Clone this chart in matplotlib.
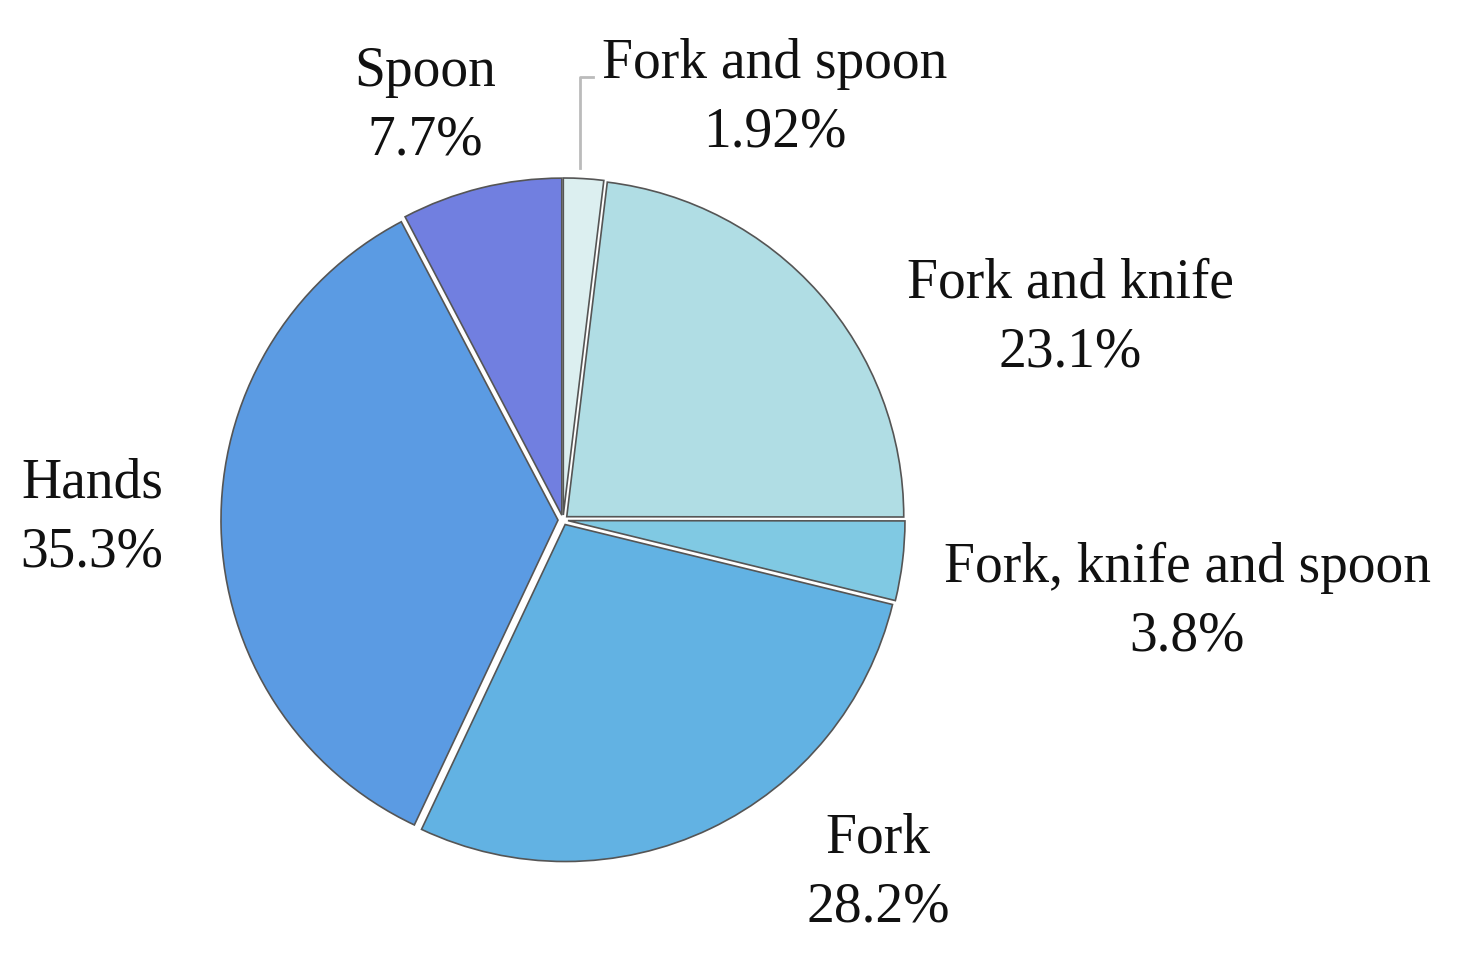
import numpy as np
import matplotlib.pyplot as plt

# categories and shares (%), clockwise from 12 o'clock
labels = ['Fork and spoon', 'Fork and knife', 'Fork, knife and spoon', 'Fork', 'Hands', 'Spoon']
shares = [1.92, 23.1, 3.8, 28.2, 35.3, 7.7]
pct_text = ['1.92%', '23.1%', '3.8%', '28.2%', '35.3%', '7.7%']
colors = ['#dceff0', '#b0dde4', '#80c9e3', '#62b2e3', '#5b9be3', '#717fe0']

W, H = 1480, 963
# label positions (pixels from top-left)
label_pos = [(775, 98), (1070, 318), (1187, 602), (878, 873), (92, 518), (425, 106)]

plt.rcParams['font.family'] = ['Liberation Serif', 'DejaVu Serif']

fig = plt.figure(figsize=(W / 100, H / 100), dpi=100)
ax = fig.add_axes([0, 0, 1, 1])

ax.pie(shares, colors=colors, startangle=90, counterclock=False,
       radius=337, center=(563, H - 520), explode=[5] * len(shares),
       wedgeprops=dict(edgecolor='#555555', linewidth=1.2))

for lab, pct, (x, y) in zip(labels, pct_text, label_pos):
    ax.text(x, H - y, lab + '\n' + pct, ha='center', va='center',
            fontsize=40, linespacing=1.42, color='#111111')

# leader line for the small slice
ax.plot([580, 580, 593], [H - 168, H - 77, H - 77], color='#bbbbbb', lw=2)

ax.set_xlim(0, W)
ax.set_ylim(0, H)
ax.set_aspect('equal')
ax.axis('off')

fig.savefig('out.png', dpi=100)
